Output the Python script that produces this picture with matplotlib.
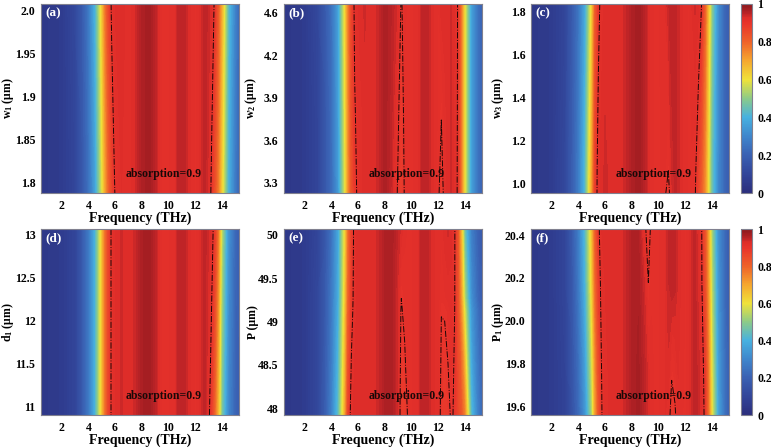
import numpy as np
import matplotlib
matplotlib.use('Agg')
import matplotlib.pyplot as plt
from matplotlib.colors import LinearSegmentedColormap, Normalize

# Frequências (THz) comuns a todos os painéis
freq = [0.45, 1.0, 2.0, 3.0, 3.5, 4.0, 4.5, 5.0, 5.25, 5.5, 5.75, 6.0, 6.5, 7.0, 7.5,
        8.0, 8.5, 9.0, 9.25, 9.5, 9.75, 10.0, 10.5, 10.75, 11.0, 11.25, 11.5, 12.0,
        12.25, 12.5, 12.75, 13.0, 13.25, 13.5, 13.75, 14.0, 14.5, 15.0, 15.3]

# (a) largura w1
w1_rows = [1.788, 2.008]
absorb_a = [
    [0.05, 0.05, 0.06, 0.10, 0.16, 0.24, 0.36, 0.57, 0.69, 0.79, 0.86, 0.902, 0.925, 0.92, 0.93,
     0.96, 0.975, 0.95, 0.93, 0.915, 0.912, 0.915, 0.925, 0.945, 0.95, 0.945, 0.93, 0.915,
     0.918, 0.935, 0.945, 0.93, 0.89, 0.83, 0.75, 0.63, 0.40, 0.27, 0.21],
    [0.05, 0.05, 0.06, 0.11, 0.17, 0.26, 0.40, 0.63, 0.76, 0.85, 0.91, 0.925, 0.93, 0.92, 0.93,
     0.96, 0.975, 0.95, 0.93, 0.915, 0.912, 0.915, 0.925, 0.945, 0.95, 0.945, 0.93, 0.915,
     0.918, 0.935, 0.945, 0.94, 0.925, 0.89, 0.81, 0.69, 0.43, 0.29, 0.22],
]

# (b) largura w2
w2_rows = [3.226, 3.755, 4.562]
absorb_b = [
    [0.05, 0.05, 0.06, 0.10, 0.16, 0.23, 0.34, 0.57, 0.72, 0.83, 0.885, 0.91, 0.93, 0.925, 0.935,
     0.965, 0.94, 0.895, 0.87, 0.905, 0.915, 0.915, 0.92, 0.94, 0.95, 0.945, 0.93, 0.91,
     0.88, 0.915, 0.93, 0.935, 0.92, 0.893, 0.76, 0.6, 0.36, 0.25, 0.2],
    [0.05, 0.05, 0.06, 0.10, 0.16, 0.23, 0.35, 0.58, 0.73, 0.845, 0.895, 0.915, 0.93, 0.925, 0.935,
     0.965, 0.945, 0.905, 0.88, 0.91, 0.915, 0.915, 0.92, 0.94, 0.95, 0.945, 0.93, 0.915,
     0.9005, 0.92, 0.93, 0.935, 0.92, 0.895, 0.76, 0.6, 0.36, 0.25, 0.2],
    [0.05, 0.05, 0.06, 0.11, 0.17, 0.24, 0.36, 0.6, 0.75, 0.86, 0.91, 0.925, 0.935, 0.925, 0.935,
     0.965, 0.95, 0.93, 0.895, 0.92, 0.915, 0.915, 0.92, 0.94, 0.95, 0.945, 0.93, 0.915,
     0.93, 0.93, 0.93, 0.935, 0.925, 0.896, 0.76, 0.6, 0.36, 0.25, 0.2],
]

# (c) largura w3
w3_rows = [0.955, 1.062, 1.833]
absorb_c = [
    [0.05, 0.05, 0.06, 0.11, 0.18, 0.27, 0.42, 0.7, 0.87, 0.92, 0.93, 0.935, 0.93, 0.925, 0.935,
     0.96, 0.975, 0.95, 0.93, 0.92, 0.915, 0.915, 0.905, 0.885, 0.93, 0.945, 0.935, 0.92,
     0.915, 0.915, 0.905, 0.86, 0.8, 0.73, 0.6, 0.46, 0.3, 0.21, 0.18],
    [0.05, 0.05, 0.06, 0.11, 0.18, 0.27, 0.42, 0.69, 0.865, 0.92, 0.93, 0.935, 0.93, 0.925, 0.935,
     0.96, 0.975, 0.95, 0.93, 0.92, 0.915, 0.915, 0.92, 0.9005, 0.935, 0.945, 0.935, 0.92,
     0.915, 0.915, 0.91, 0.87, 0.81, 0.735, 0.6, 0.46, 0.3, 0.21, 0.18],
    [0.05, 0.05, 0.06, 0.10, 0.17, 0.25, 0.38, 0.62, 0.8, 0.885, 0.92, 0.93, 0.93, 0.925, 0.935,
     0.96, 0.975, 0.95, 0.93, 0.92, 0.915, 0.915, 0.925, 0.94, 0.95, 0.945, 0.935, 0.92,
     0.915, 0.925, 0.935, 0.93, 0.899, 0.8, 0.66, 0.5, 0.31, 0.21, 0.18],
]

# (d) distância d1
d1_rows = [10.9, 13.066]
absorb_d = [
    [0.05, 0.05, 0.06, 0.10, 0.17, 0.26, 0.40, 0.64, 0.77, 0.86, 0.91, 0.925, 0.935, 0.925, 0.935,
     0.965, 0.975, 0.95, 0.93, 0.915, 0.912, 0.915, 0.925, 0.945, 0.95, 0.945, 0.93, 0.915,
     0.918, 0.935, 0.945, 0.915, 0.87, 0.78, 0.66, 0.48, 0.3, 0.21, 0.18],
    [0.05, 0.05, 0.06, 0.10, 0.17, 0.26, 0.40, 0.64, 0.77, 0.86, 0.91, 0.925, 0.935, 0.925, 0.935,
     0.965, 0.975, 0.95, 0.93, 0.915, 0.912, 0.915, 0.925, 0.945, 0.95, 0.945, 0.93, 0.915,
     0.918, 0.935, 0.945, 0.935, 0.92, 0.875, 0.76, 0.55, 0.33, 0.22, 0.19],
]

# (e) período P
p_rows = [47.92, 49.11, 49.28, 50.066]
absorb_e = [
    [0.05, 0.05, 0.06, 0.11, 0.18, 0.28, 0.43, 0.68, 0.86, 0.92, 0.93, 0.93, 0.93, 0.925, 0.935,
     0.96, 0.965, 0.93, 0.88, 0.875, 0.905, 0.915, 0.925, 0.945, 0.95, 0.945, 0.93, 0.92,
     0.89, 0.88, 0.89, 0.905, 0.895, 0.86, 0.82, 0.75, 0.42, 0.28, 0.22],
    [0.05, 0.05, 0.06, 0.11, 0.17, 0.26, 0.39, 0.63, 0.8, 0.885, 0.92, 0.93, 0.93, 0.925, 0.935,
     0.96, 0.965, 0.93, 0.895, 0.91, 0.915, 0.915, 0.925, 0.945, 0.95, 0.945, 0.93, 0.92,
     0.9005, 0.902, 0.91, 0.92, 0.9, 0.84, 0.73, 0.58, 0.34, 0.24, 0.19],
    [0.05, 0.05, 0.06, 0.11, 0.17, 0.26, 0.38, 0.62, 0.79, 0.88, 0.918, 0.93, 0.93, 0.925, 0.935,
     0.96, 0.965, 0.93, 0.9005, 0.91, 0.915, 0.915, 0.925, 0.945, 0.95, 0.945, 0.93, 0.92,
     0.91, 0.915, 0.92, 0.92, 0.902, 0.835, 0.71, 0.54, 0.32, 0.22, 0.18],
    [0.05, 0.05, 0.06, 0.10, 0.16, 0.24, 0.37, 0.6, 0.77, 0.87, 0.915, 0.93, 0.93, 0.925, 0.935,
     0.96, 0.965, 0.94, 0.93, 0.92, 0.915, 0.915, 0.925, 0.945, 0.95, 0.945, 0.93, 0.92,
     0.918, 0.93, 0.935, 0.93, 0.905, 0.82, 0.66, 0.46, 0.28, 0.2, 0.17],
]

# (f) período P1
p1_rows = [19.56, 19.727, 20.17, 20.428]
absorb_f = [
    [0.05, 0.05, 0.06, 0.09, 0.14, 0.22, 0.33, 0.52, 0.7, 0.82, 0.898, 0.92, 0.93, 0.925, 0.935,
     0.96, 0.97, 0.945, 0.93, 0.92, 0.915, 0.915, 0.925, 0.915, 0.885, 0.895, 0.92, 0.915,
     0.918, 0.935, 0.945, 0.94, 0.925, 0.89, 0.78, 0.6, 0.36, 0.24, 0.19],
    [0.05, 0.05, 0.06, 0.09, 0.15, 0.23, 0.35, 0.55, 0.72, 0.835, 0.9, 0.92, 0.93, 0.925, 0.935,
     0.96, 0.97, 0.945, 0.93, 0.92, 0.915, 0.915, 0.925, 0.93, 0.9005, 0.91, 0.925, 0.915,
     0.918, 0.935, 0.945, 0.94, 0.922, 0.885, 0.77, 0.59, 0.35, 0.24, 0.19],
    [0.05, 0.05, 0.06, 0.10, 0.16, 0.26, 0.40, 0.62, 0.78, 0.875, 0.915, 0.925, 0.93, 0.925, 0.935,
     0.96, 0.965, 0.93, 0.9005, 0.915, 0.915, 0.915, 0.925, 0.94, 0.95, 0.945, 0.93, 0.915,
     0.918, 0.935, 0.945, 0.93, 0.905, 0.84, 0.72, 0.55, 0.33, 0.22, 0.18],
    [0.05, 0.05, 0.06, 0.10, 0.17, 0.27, 0.42, 0.65, 0.8, 0.89, 0.925, 0.93, 0.93, 0.925, 0.935,
     0.96, 0.96, 0.905, 0.885, 0.91, 0.915, 0.915, 0.925, 0.94, 0.95, 0.945, 0.93, 0.915,
     0.918, 0.935, 0.945, 0.925, 0.902, 0.83, 0.7, 0.53, 0.32, 0.22, 0.18],
]

# Configuração geral
plt.rcParams['font.family'] = 'Liberation Serif'
plt.rcParams['font.weight'] = 'bold'
plt.rcParams['mathtext.fontset'] = 'custom'
plt.rcParams['mathtext.rm'] = 'Liberation Serif:bold'
plt.rcParams['mathtext.it'] = 'Liberation Serif:bold'
plt.rcParams['mathtext.bf'] = 'Liberation Serif:bold'

# Mapa de cores tipo "jet" suavizado
cores = [(0.0, '#2b2e7c'), (0.1, '#32459a'), (0.2, '#3a61b3'), (0.3, '#3f86cc'),
         (0.4, '#47b1e0'), (0.5, '#8ccb88'), (0.6, '#efe23a'), (0.7, '#f6a72e'),
         (0.8, '#ef6229'), (0.9, '#e8332b'), (0.93, '#de2d29'), (0.95, '#bd2427'),
         (0.975, '#a21d22'), (1.0, '#8a1a1e')]
cmap = LinearSegmentedColormap.from_list('jet_suave', cores)

paineis = [
    ('(a)', r'w$_1$ (μm)', w1_rows, absorb_a, [1.8, 1.85, 1.9, 1.95, 2.0],
     ['1.8', '1.85', '1.9', '1.95', '2.0'], (1.788, 2.008)),
    ('(b)', r'w$_2$ (μm)', w2_rows, absorb_b, [3.3, 3.6, 3.9, 4.2, 4.5],
     ['3.3', '3.6', '3.9', '4.2', '4.6'], (3.226, 4.562)),
    ('(c)', r'w$_3$ (μm)', w3_rows, absorb_c, [1.0, 1.2, 1.4, 1.6, 1.8],
     ['1.0', '1.2', '1.4', '1.6', '1.8'], (0.955, 1.833)),
    ('(d)', r'd$_1$ (μm)', d1_rows, absorb_d, [11, 11.5, 12, 12.5, 13],
     ['11', '11.5', '12', '12.5', '13'], (10.9, 13.066)),
    ('(e)', r'P (μm)', p_rows, absorb_e, [48, 48.5, 49, 49.5, 50],
     ['48', '48.5', '49', '49.5', '50'], (47.92, 50.066)),
    ('(f)', r'P$_1$ (μm)', p1_rows, absorb_f, [19.6, 19.8, 20.0, 20.2, 20.4],
     ['19.6', '19.8', '20.0', '20.2', '20.4'], (19.56, 20.428)),
]

W, H = 771, 448
fig = plt.figure(figsize=(W / 100, H / 100), dpi=100)

lefts = [41, 284, 531]
tops = [4, 229]
alturas = [189, 186]
larg = 198
cor_borda = '#80808f'

for i, (letra, ylab, linhas, dados, yt, ytl, ylim) in enumerate(paineis):
    lin, col = divmod(i, 3)
    alt = alturas[lin]
    ax = fig.add_axes([lefts[col] / W, 1 - (tops[lin] + alt) / H, larg / W, alt / H])
    Z = np.array(dados)
    ax.contourf(freq, linhas, Z, levels=np.linspace(0, 1, 121), cmap=cmap,
                vmin=0, vmax=1, antialiased=False)
    ax.contour(freq, linhas, Z, levels=[0.9], colors='#1a0808',
               linestyles='-.', linewidths=0.7)
    ax.set_xlim(0.45, 15.3)
    ax.set_ylim(*ylim)
    ax.set_xticks([2, 4, 6, 8, 10, 12, 14])
    ax.set_yticks(yt)
    ax.set_yticklabels(ytl)
    ax.tick_params(length=0, labelsize=8.5)
    ax.tick_params(axis='y', pad=4)
    ax.tick_params(axis='x', pad=5)
    ax.set_xlabel('Frequency (THz)', fontsize=10, fontweight='bold')
    ax.xaxis.set_label_coords(0.5, -0.1)
    ax.set_ylabel(ylab, fontsize=8.5, fontweight='bold')
    ax.yaxis.set_label_coords(-0.125, 0.5)
    for s in ax.spines.values():
        s.set_color(cor_borda)
        s.set_linewidth(0.8)
    ax.text(0.02, 0.985, letra, transform=ax.transAxes, color='white',
            fontsize=9.5, fontweight='bold', va='top', ha='left')
    ax.text(0.62, 0.1, 'absorption=0.9', transform=ax.transAxes, color='#1a0808',
            fontsize=8.5, fontweight='bold', va='center', ha='center')

# Barras de cores
for lin in range(2):
    alt = alturas[lin]
    cax = fig.add_axes([741 / W, 1 - (tops[lin] + alt) / H, 11 / W, alt / H])
    sm = plt.cm.ScalarMappable(norm=Normalize(0, 1), cmap=cmap)
    cb = fig.colorbar(sm, cax=cax, ticks=[0, 0.2, 0.4, 0.6, 0.8, 1])
    cb.ax.set_yticklabels(['0', '0.2', '0.4', '0.6', '0.8', '1'])
    cb.ax.tick_params(length=0, labelsize=8.5, pad=4)
    cb.outline.set_edgecolor(cor_borda)
    cb.outline.set_linewidth(0.8)

fig.savefig('out.png', dpi=100)
